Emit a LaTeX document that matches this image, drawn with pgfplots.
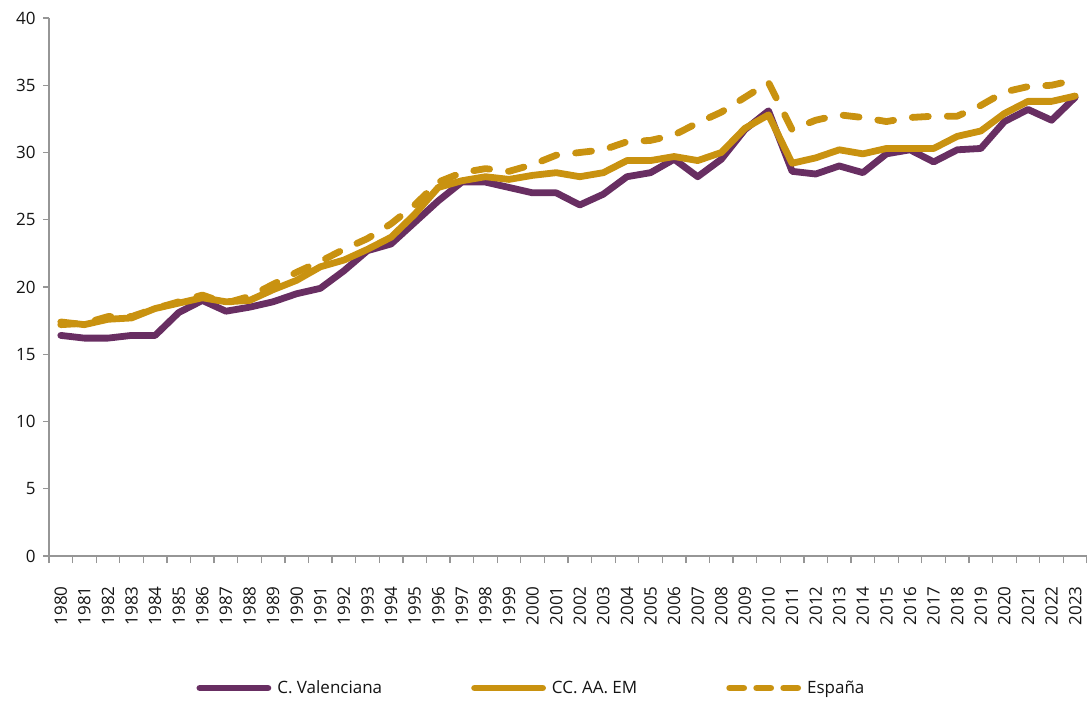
\documentclass[border=0pt]{standalone}
\usepackage{fontspec}
\setmainfont{Open Sans}
\usepackage{pgfplots}
\pgfplotsset{compat=1.18}
\usepackage{pgfplotstable}
\definecolor{cvpurple}{RGB}{104,46,98}
\definecolor{ccgold}{RGB}{201,146,16}
\definecolor{axgray}{RGB}{150,150,150}
\definecolor{txt}{RGB}{20,20,20}
\newcommand{\chartfont}{\fontsize{17bp}{20bp}\selectfont}
\pgfplotsset{
  solidleg/.style={legend image code/.code={\draw[##1] (3.5bp,0bp) -- (71.5bp,0bp);}},
  dashleg/.style={legend image code/.code={\draw[##1, dash pattern=on 14bp off 13bp] (3.5bp,0bp) -- (71.5bp,0bp);}},
}
\pgfplotstableread{
x year cv cc es
0 1980 16.4 17.4 17.2
1 1981 16.2 17.2 17.3
2 1982 16.2 17.6 17.8
3 1983 16.4 17.7 17.8
4 1984 16.4 18.4 18.4
5 1985 18.1 18.8 18.9
6 1986 19.0 19.2 19.4
7 1987 18.2 18.9 18.8
8 1988 18.5 19.0 19.3
9 1989 18.9 19.8 20.2
10 1990 19.5 20.5 21.1
11 1991 19.9 21.5 21.9
12 1992 21.2 22.0 22.8
13 1993 22.7 22.8 23.6
14 1994 23.2 23.7 24.7
15 1995 24.8 25.4 26.1
16 1996 26.4 27.4 27.8
17 1997 27.8 27.9 28.5
18 1998 27.8 28.2 28.8
19 1999 27.4 28.0 28.6
20 2000 27.0 28.3 29.1
21 2001 27.0 28.5 29.8
22 2002 26.1 28.2 30.0
23 2003 26.9 28.5 30.2
24 2004 28.2 29.4 30.8
25 2005 28.5 29.4 30.9
26 2006 29.5 29.7 31.3
27 2007 28.2 29.4 32.2
28 2008 29.5 30.0 33.0
29 2009 31.7 31.8 34.1
30 2010 33.1 32.8 35.2
31 2011 28.6 29.2 31.7
32 2012 28.4 29.6 32.4
33 2013 29.0 30.2 32.8
34 2014 28.5 29.9 32.6
35 2015 29.9 30.3 32.3
36 2016 30.2 30.3 32.6
37 2017 29.3 30.3 32.7
38 2018 30.2 31.2 32.7
39 2019 30.3 31.6 33.5
40 2020 32.3 32.9 34.5
41 2021 33.2 33.8 34.9
42 2022 32.4 33.8 35.0
43 2023 34.1 34.2 35.4
}\data
\begin{document}
\begin{tikzpicture}
\begin{axis}[
  at={(0,0)}, anchor=south west,
  scale only axis, width=1038bp, height=538bp,
  xmin=-0.5, xmax=43.5, ymin=0, ymax=40,
  axis x line*=bottom, axis y line*=left,
  axis line style={draw=axgray, line width=1.3bp, -},
  tick align=outside,
  xtick={0,...,43},
  xticklabels from table={\data}{year},
  major x tick style={draw=none},
  minor xtick={-0.5,0.5,...,43.5},
  minor x tick style={draw=axgray, line width=1.3bp},
  minor tick length=7bp,
  x tick label style={rotate=90, anchor=east, font=\chartfont, text=txt},
  xticklabel shift=21bp,
  ytick={0,5,...,40},
  major y tick style={draw=axgray, line width=1.3bp},
  major tick length=6bp,
  y tick label style={font=\chartfont, text=txt},
  yticklabel shift=4bp,
  /pgf/number format/assume math mode=true,
  legend columns=3,
  legend style={at={(axis description cs:0.4648,-0.2454)}, anchor=center,
    draw=none, fill=none, font=\chartfont, text=txt,
    /tikz/every even column/.append style={column sep=87bp},
    /tikz/every odd column/.append style={column sep=4bp}},
  solidleg,
  every axis plot/.append style={line width=6.8bp, line join=round, line cap=round},
]
\addplot[cvpurple] table[x=x, y=cv] {\data};
\addlegendentry{C. Valenciana}
\addplot[ccgold] table[x=x, y=cc] {\data};
\addlegendentry{CC. AA. EM}
\addplot[ccgold, dash pattern=on 16bp off 19bp, dashleg] table[x=x, y=es] {\data};
\addlegendentry{España}
\end{axis}
\pgfresetboundingbox
\path[use as bounding box] (-49bp,-146bp) rectangle (1038bp,556bp);
\end{tikzpicture}
\end{document}
